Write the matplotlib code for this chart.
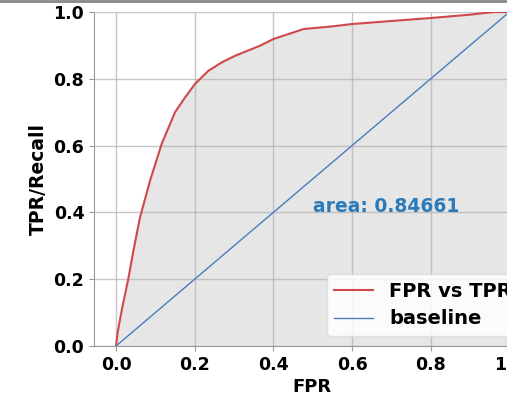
import matplotlib.pyplot as plt
from matplotlib.lines import Line2D

# ROC curve points
fpr = [0.0, 0.004, 0.015, 0.031, 0.045, 0.061, 0.087, 0.116, 0.15, 0.176,
       0.201, 0.235, 0.27, 0.303, 0.366, 0.40, 0.477, 0.55, 0.60, 0.70, 0.80, 0.90, 0.96, 1.0]
tpr = [0.0, 0.04, 0.11, 0.20, 0.29, 0.385, 0.497, 0.605, 0.70, 0.745,
       0.785, 0.824, 0.85, 0.869, 0.899, 0.919, 0.949, 0.957, 0.964, 0.973, 0.982, 0.992, 1.0, 1.0]
base = [0.0, 1.0]
area = 0.84661

plt.rcParams['font.family'] = 'DejaVu Sans'
plt.rcParams['font.weight'] = 'bold'

fig = plt.figure(figsize=(5.07, 3.98), dpi=100)
ax = fig.add_axes([94 / 507, 52 / 398, 435 / 507, 334 / 398])

ax.fill_between(fpr, tpr, 0, color='#e6e6e6', zorder=1)
ax.plot(fpr, tpr, color='#d04848', lw=1.5, label='FPR vs TPR', zorder=3)
ax.plot(base, base, color='#4a7cc0', lw=1.0, label='baseline', zorder=3)
ax.text(0.5, 0.4, f'area: {area}', color='#2b7bba', fontsize=13.5,
        fontweight='bold', ha='left', va='baseline', zorder=4)

ax.set_xlim(-0.056, 1.05)
ax.set_ylim(0, 1)
ax.set_xticks([0, 0.2, 0.4, 0.6, 0.8, 1.0])
ax.set_yticks([0, 0.2, 0.4, 0.6, 0.8, 1.0])
ax.tick_params(labelsize=12.5, length=3.5, color='#999999')
ax.grid(True, color='#b0b0b0', lw=1, alpha=0.7, zorder=2)
ax.set_axisbelow(False)
for s in ['top', 'right']:
    ax.spines[s].set_visible(False)
for s in ['left', 'bottom']:
    ax.spines[s].set_color('#999999')

ax.set_xlabel('FPR', fontsize=13, fontweight='bold', labelpad=3)
ax.set_ylabel('TPR/Recall', fontsize=13.5, fontweight='bold')
ax.legend(loc='lower right', fontsize=14, framealpha=0.85, edgecolor='#dddddd',
          labelspacing=0.45, borderaxespad=0.5)

# screenshot border at the top
fig.add_artist(Line2D([0, 1], [0.997, 0.997], transform=fig.transFigure,
                      color='#888888', lw=2))

fig.savefig('out.png', dpi=100)
